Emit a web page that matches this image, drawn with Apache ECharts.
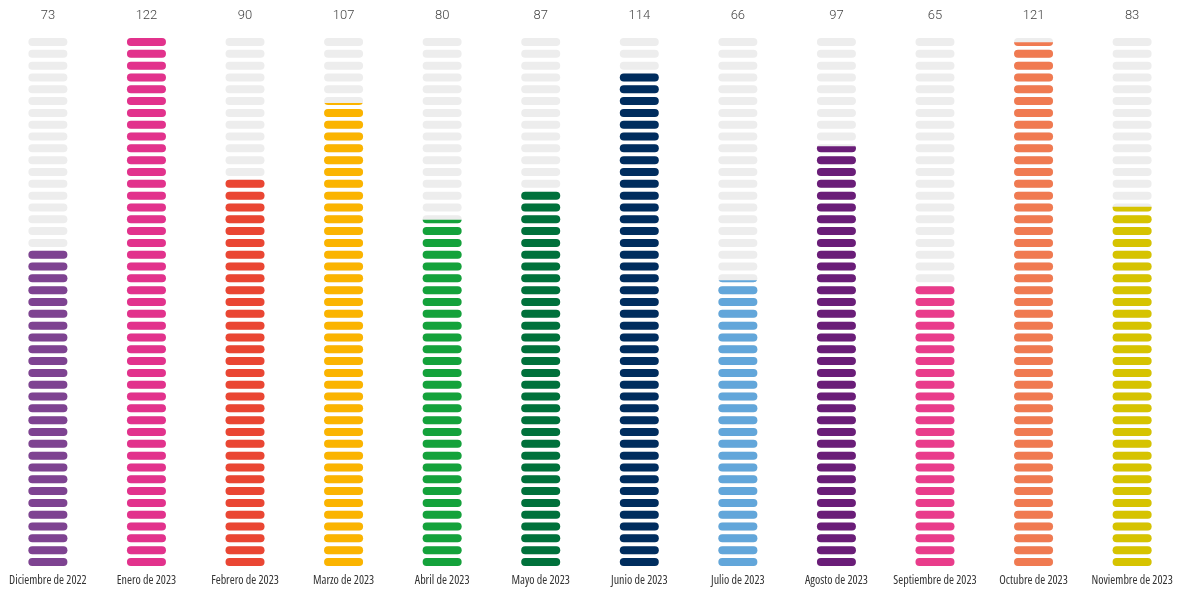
<!DOCTYPE html>
<html>
<head>
<meta charset="utf-8">
<script src="https://cdn.jsdelivr.net/npm/echarts@6/dist/echarts.min.js"></script>
<style>
html,body{margin:0;padding:0;background:#fff;}
#chart{width:1180px;height:594px;}
</style>
</head>
<body>
<div id="chart"></div>
<script>
const categories = ['Diciembre de 2022','Enero de 2023','Febrero de 2023','Marzo de 2023','Abril de 2023','Mayo de 2023','Junio de 2023','Julio de 2023','Agosto de 2023','Septiembre de 2023','Octubre de 2023','Noviembre de 2023'];
const values = [73, 122, 90, 107, 80, 87, 114, 66, 97, 65, 121, 83];
const colors = ['#7E4391','#E2328C','#EA4633','#FBB400','#14A23B','#00713B','#002D5E','#62A6DA','#6A1D78','#E93C8B','#F07A51','#D6C300'];
const scaleMax = 122;
const slots = 45;

const chart = echarts.init(document.getElementById('chart'));
const pillSize = [39, 8];
const pill = 'path://M4,0 L35,0 A4,4 0 0 1 35,8 L4,8 A4,4 0 0 1 4,0 Z';
chart.setOption({
  animation: false,
  grid: { left: -1.4, right: -1.4, top: 38, bottom: 28, outerBoundsMode: 'none', containLabel: false },
  xAxis: [
    {
      type: 'category', data: categories, position: 'bottom',
      axisLine: { show: false }, axisTick: { show: false },
      axisLabel: { interval: 0, margin: 9, color: '#333', fontSize: 12, fontStyle: 'condensed', fontFamily: '"Open Sans", sans-serif' }
    },
    {
      type: 'category', data: values.map(String), position: 'top',
      axisLine: { show: false }, axisTick: { show: false },
      axisLabel: { interval: 0, margin: 16, color: '#444', fontSize: 13, fontWeight: 300, fontFamily: 'Roboto, sans-serif' }
    }
  ],
  yAxis: { type: 'value', min: 0, max: scaleMax, show: false, splitLine: { show: false } },
  series: [
    {
      type: 'pictorialBar', xAxisIndex: 0,
      symbol: pill, symbolSize: pillSize,
      symbolRepeat: slots, symbolBoundingData: scaleMax,
      itemStyle: { color: '#EDEDED' }, silent: true, z: 1,
      data: values.map(() => scaleMax)
    },
    {
      type: 'pictorialBar', xAxisIndex: 0,
      symbol: pill, symbolSize: pillSize,
      symbolRepeat: slots, symbolBoundingData: scaleMax, symbolClip: true,
      z: 2,
      data: values.map((v, i) => ({ value: v, itemStyle: { color: colors[i] } }))
    }
  ]
});
</script>
</body>
</html>
